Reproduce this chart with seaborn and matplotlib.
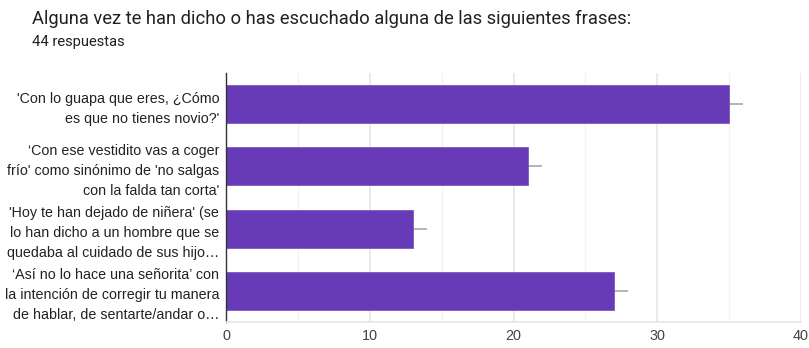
"""Grafico de barras horizontales de la encuesta (frases escuchadas)."""

import matplotlib.pyplot as plt
import pandas as pd
import seaborn as sns
from matplotlib.ticker import MultipleLocator


titulo = "Alguna vez te han dicho o has escuchado alguna de las siguientes frases:"
subtitulo = "44 respuestas"

frases = [
    "'Con lo guapa que eres, ¿Cómo\nes que no tienes novio?'",
    "‘Con ese vestidito vas a coger\nfrío' como sinónimo de 'no salgas\ncon la falda tan corta'",
    "'Hoy te han dejado de niñera' (se\nlo han dicho a un hombre que se\nquedaba al cuidado de sus hijo…",
    "‘Así no lo hace una señorita’ con\nla intención de corregir tu manera\nde hablar, de sentarte/andar o…",
]
respuestas = [35, 21, 13, 27]
error = [1, 1, 1, 1]
ticks_x = [0, 10, 20, 30, 40]

data = pd.DataFrame({"frase": frases, "respuestas": respuestas})

sns.set_theme(style="white")
plt.rcParams["font.family"] = ["Roboto", "DejaVu Sans"]

fig = plt.figure(figsize=(8.09, 3.48), dpi=100)
ax = fig.add_axes([0.2795, 0.075, 0.7105, 0.715])

ax.errorbar(
    data["respuestas"],
    range(len(frases)),
    xerr=error,
    fmt="none",
    ecolor="#a8a8a8",
    elinewidth=1.2,
    capsize=0,
    zorder=1,
)
sns.barplot(
    data=data,
    x="respuestas",
    y="frase",
    orient="h",
    color="#673ab7",
    saturation=1,
    width=0.61,
    edgecolor="#7e57c2",
    linewidth=0.6,
    ax=ax,
    zorder=2,
)

ax.set_xlim(0, 40)
ax.set_ylim(3.5, -0.5)
ax.set_xticks(ticks_x)
ax.xaxis.set_minor_locator(MultipleLocator(5))
ax.grid(axis="x", which="major", color="#e6e6e6", linewidth=1.2, zorder=0)
ax.grid(axis="x", which="minor", color="#f3f3f3", linewidth=1.0, zorder=0)
ax.set_axisbelow(True)
ax.set_xlabel("")
ax.set_ylabel("")

for lado in ["top", "right"]:
    ax.spines[lado].set_visible(False)
ax.spines["left"].set_color("#333333")
ax.spines["left"].set_linewidth(1.0)
ax.spines["bottom"].set_color("#e6e6e6")
ax.spines["bottom"].set_linewidth(1.2)

ax.tick_params(axis="x", which="both", length=0, labelsize=10.4, labelcolor="#444444", pad=5)
ax.tick_params(axis="y", length=0, labelsize=10.3, labelcolor="#222222", pad=5)
for etiqueta in ax.get_yticklabels() + ax.get_xticklabels():
    etiqueta.set_family(["Liberation Sans", "DejaVu Sans"])
for etiqueta in ax.get_yticklabels():
    etiqueta.set_horizontalalignment("right")
    etiqueta.set_linespacing(1.55)

fig.text(0.04, 0.945, titulo, fontsize=13.2, color="#212121", va="center")
fig.text(0.04, 0.878, subtitulo, fontsize=10.6, color="#212121", va="center")

fig.savefig("out.png", dpi=100)
plt.close(fig)
